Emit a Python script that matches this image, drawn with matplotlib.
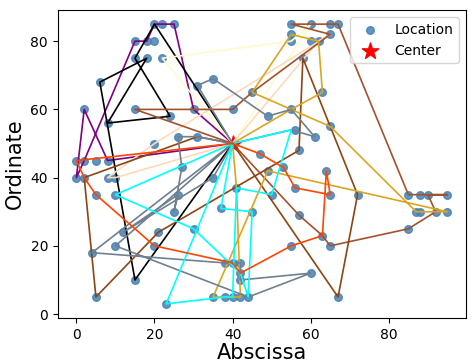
import matplotlib
matplotlib.use("Agg")
import matplotlib.pyplot as plt

# depot
center = (40, 50)

# customer locations
loc_x = [20, 22, 25, 15, 18, 20, 15, 18, 22, 6, 2, 15, 24, 30, 8, 31, 35,
         55, 60, 65, 67, 55, 55, 60, 62, 65, 58, 45, 63, 40, 55, 49, 65, 56, 61,
         20, 26, 31, 0, 2, 5, 8, 0, 2, 8, 10, 27, 5, 10, 26, 25, 12, 21, 30,
         47, 57, 53, 49, 64, 35, 56, 65, 72, 50, 41, 37, 45, 57, 63,
         10, 20, 4, 15, 5, 23, 38, 40, 42, 42, 42, 60, 35, 38, 40, 42, 44, 55, 65, 67,
         85, 88, 90, 95, 87, 88, 92, 95, 85]
loc_y = [85, 85, 85, 80, 80, 80, 75, 75, 75, 68, 60, 60, 58, 60, 56, 67, 69,
         85, 85, 85, 85, 82, 80, 80, 80, 82, 75, 65, 65, 60, 60, 58, 55, 54, 52,
         50, 52, 52, 45, 45, 45, 45, 40, 40, 40, 40, 43, 35, 35, 35, 30, 24, 24, 25,
         47, 48, 43, 42, 42, 40, 37, 35, 35, 35, 37, 31, 30, 29, 23,
         20, 20, 18, 10, 5, 3, 15, 15, 15, 12, 10, 12, 5, 5, 5, 5, 5, 20, 20, 5,
         35, 35, 35, 35, 30, 30, 30, 30, 25]

# vehicle routes (each starts and ends at the center)
route_purple = [(30, 60), (25, 85), (22, 85), (20, 85), (18, 80), (15, 80),
                (2, 45), (0, 40), (2, 60), (8, 45)]
route_black = [(20, 85), (15, 75), (24, 58), (8, 56), (18, 75), (6, 68), (15, 10)]
route_cream = [(22, 75), (55, 80), (60, 85)]
route_peach = [(10, 40), (8, 40), (20, 50), (65, 82), (62, 80)]
route_sienna = [(15, 60), (40, 60), (45, 65), (65, 82), (55, 85), (60, 85), (65, 85),
                (67, 85), (85, 35), (88, 35), (95, 35), (90, 35), (92, 30), (85, 25),
                (65, 20), (63, 23), (57, 29)]
route_brown = [(67, 5), (72, 35), (65, 55), (58, 75), (57, 48), (21, 24), (5, 5),
               (2, 40), (31, 52)]
route_gold = [(41, 37), (42, 5), (35, 5), (49, 42), (95, 30), (92, 30), (88, 30),
              (87, 30), (65, 55), (45, 65), (55, 82), (62, 80), (63, 65), (55, 60)]
route_gray1 = [(31, 67), (35, 69), (49, 58), (55, 60), (61, 52), (55, 54)]
route_gray2 = [(4, 18), (38, 15), (40, 15), (42, 15), (42, 12), (42, 10), (60, 12),
               (44, 5), (10, 20)]
route_gray3 = [(31, 52), (26, 52), (27, 43), (25, 30), (26, 35), (12, 24), (35, 40)]
route_cyan1 = [(10, 35), (30, 25), (42, 12), (44, 5), (45, 30), (37, 31)]
route_cyan2 = [(55, 54), (50, 35), (41, 37), (40, 5), (38, 5), (23, 3)]
route_red = [(47, 47), (53, 43), (56, 37), (65, 35), (64, 42), (63, 23), (55, 20),
             (42, 12), (40, 15), (20, 20), (5, 35), (2, 40), (0, 45)]

routes = [route_purple, route_black, route_cream, route_peach, route_sienna,
          route_brown, route_gold, route_gray1, route_gray2, route_gray3,
          route_cyan1, route_cyan2, route_red]
colors = ['purple', 'black', 'lemonchiffon', 'peachpuff', 'sienna',
          'saddlebrown', 'goldenrod', 'slategray', 'slategray', 'slategray',
          'cyan', 'cyan', 'orangered']

fig = plt.figure(figsize=(4.74, 3.62), dpi=100)
ax = fig.add_axes([0.122, 0.122, 0.861, 0.85])

ax.scatter(loc_x, loc_y, c='steelblue', s=30, alpha=0.85, label='Location', zorder=1)
ax.scatter([center[0]], [center[1]], c='red', marker='*', s=150, label='Center', zorder=1)

for route, col in zip(routes, colors):
    path = [center] + route + [center]
    xs = [p[0] for p in path]
    ys = [p[1] for p in path]
    ax.plot(xs, ys, color=col, linewidth=1.2, zorder=2)

ax.set_xlabel('Abscissa', fontsize=15, labelpad=1)
ax.set_ylabel('Ordinate', fontsize=15)
ax.set_xticks([0, 20, 40, 60, 80])
ax.set_yticks([0, 20, 40, 60, 80])
ax.legend(loc='upper right')

plt.savefig('out.png')
